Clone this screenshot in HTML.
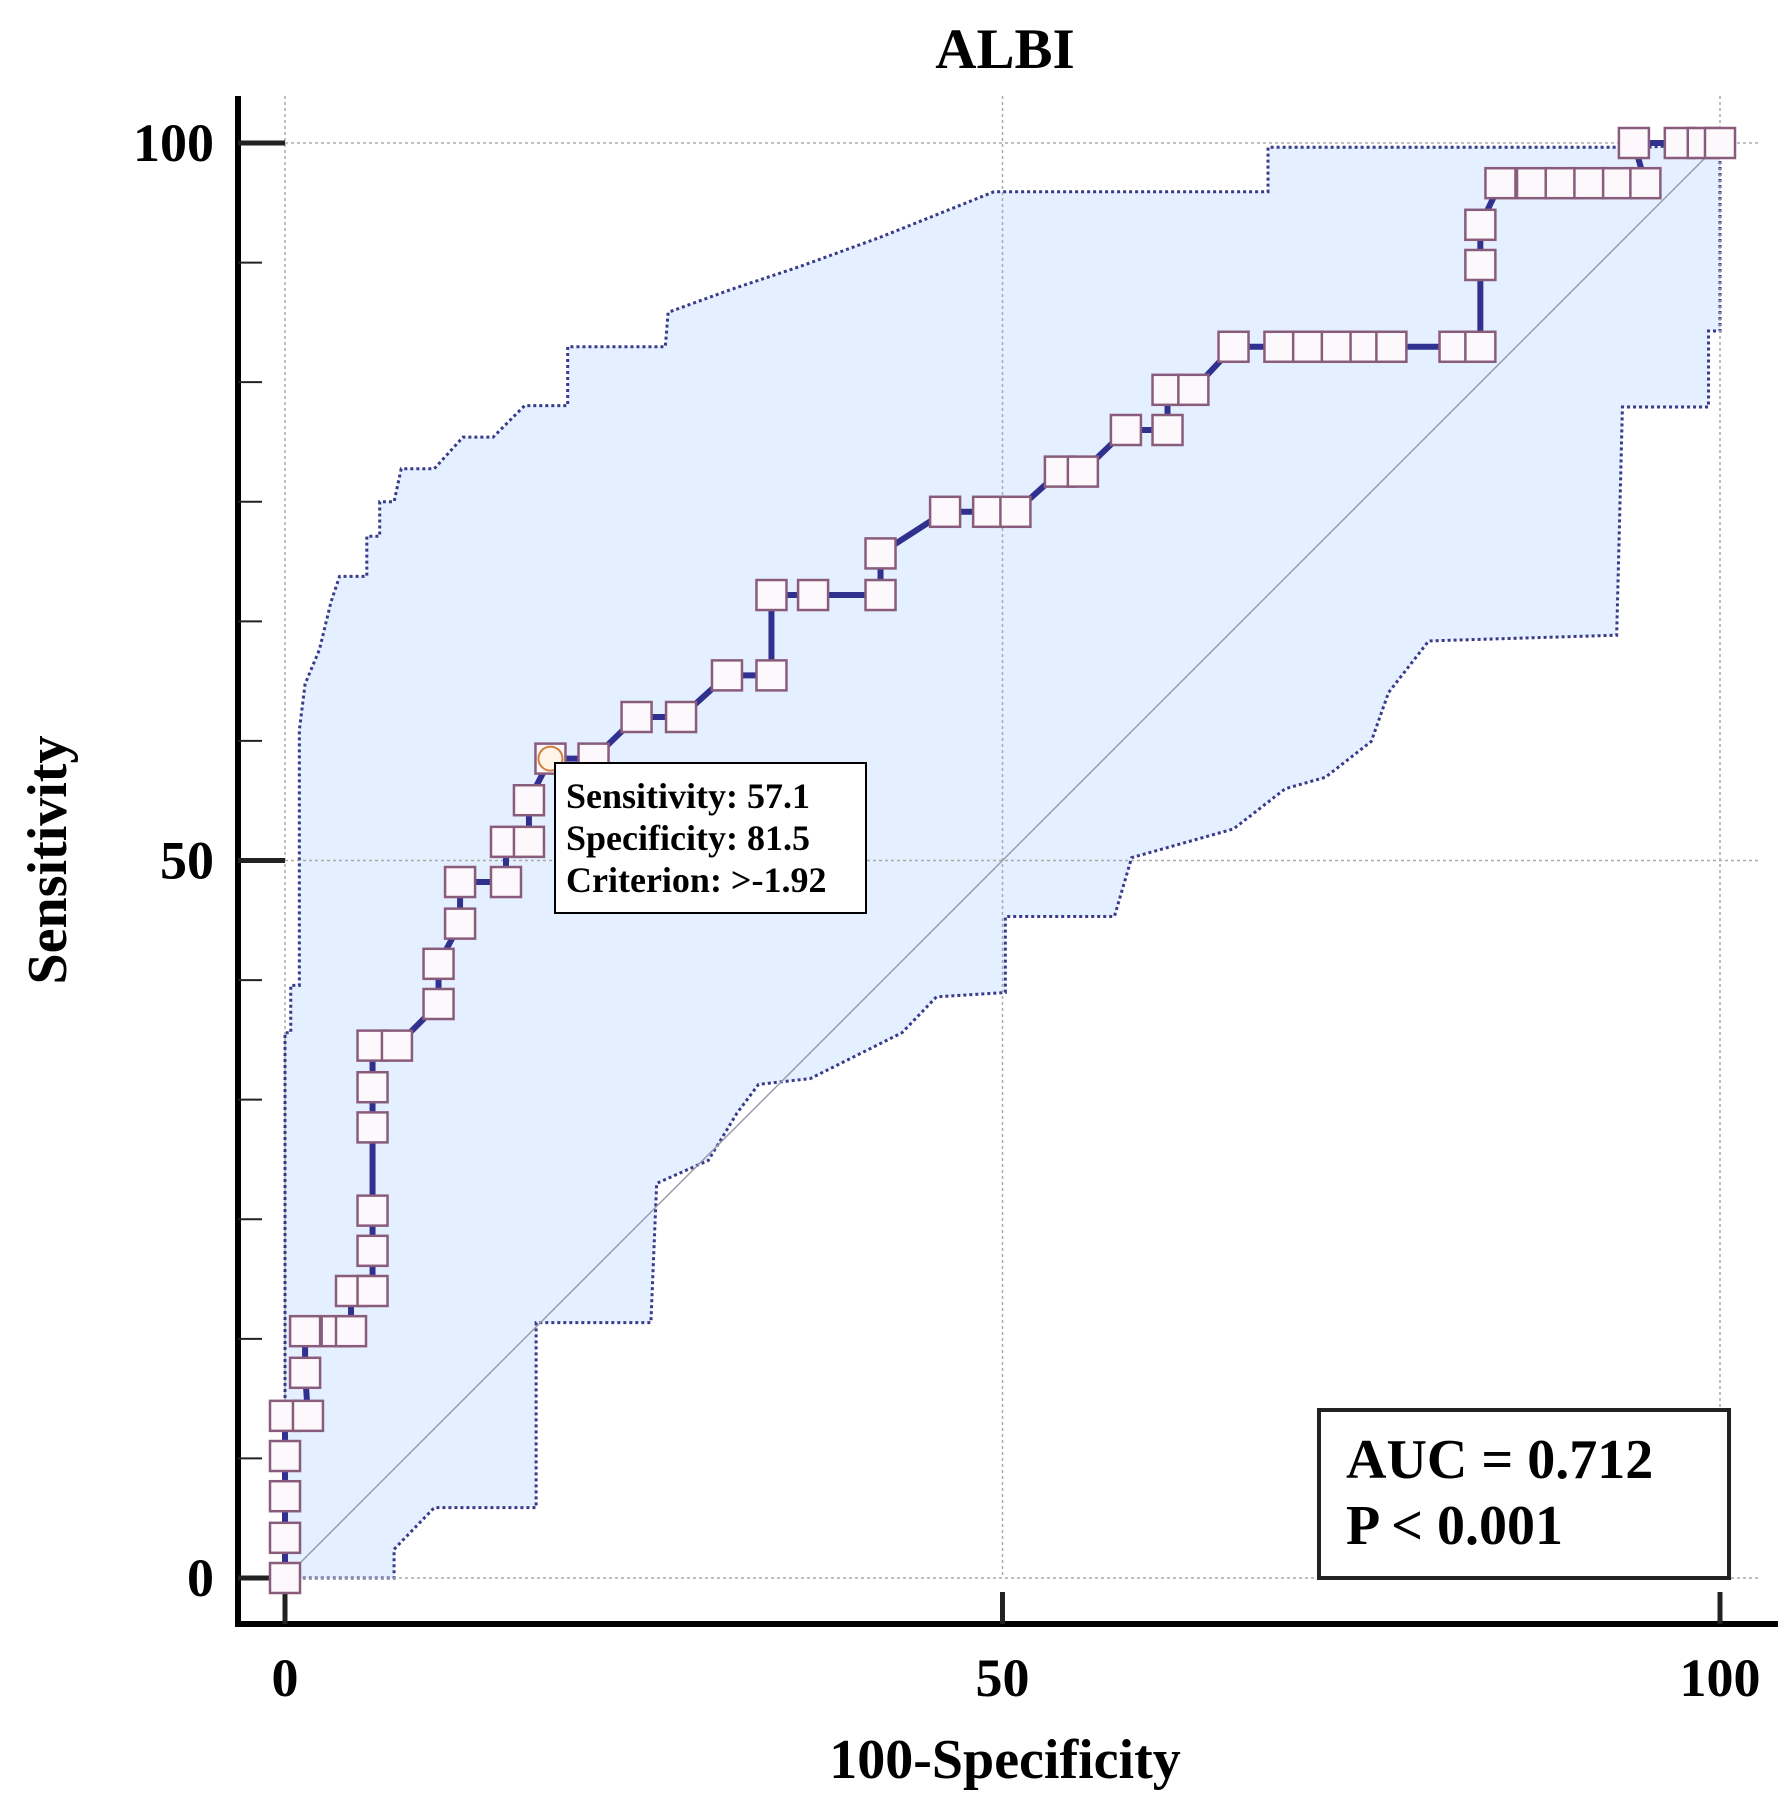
<!DOCTYPE html>
<html><head><meta charset="utf-8"><style>
html,body{margin:0;padding:0;background:#fff;}
svg{display:block;font-family:"Liberation Serif",serif;}
</style></head><body>
<svg id="chart" width="1790" height="1819" viewBox="0 0 1790 1819">
<text x="1005" y="68" text-anchor="middle" font-size="57" font-weight="bold">ALBI</text>
<g id="plot"></g>
<text x="1005" y="1778" text-anchor="middle" font-size="56" font-weight="bold">100-Specificity</text>
<text transform="translate(66,860) rotate(-90)" text-anchor="middle" font-size="56" font-weight="bold">Sensitivity</text>
</svg>
<script>
const rocX=[0,0,0,0,0,1.6,1.4,1.4,3.6,4.6,4.6,6.1,6.1,6.1,6.1,6.1,6.1,7.8,10.7,10.7,12.2,12.2,15.4,15.4,17,17,18.5,21.5,24.5,27.6,30.8,33.9,33.9,36.8,41.5,41.5,46,49,50.9,54,55.6,58.6,61.5,61.5,63.3,66.1,69.3,71.3,73.3,75.3,77.1,81.5,83.3,83.3,83.3,84.7,86.9,88.9,90.9,92.9,94.8,94,97.2,98.8,100];
const rocY=[0,2.8,5.7,8.5,11.3,11.3,14.3,17.2,17.2,17.2,20,20,22.8,25.6,31.4,34.2,37.1,37.1,40,42.8,45.6,48.5,48.5,51.3,51.3,54.2,57.1,57.1,60,60,62.9,62.9,68.5,68.5,68.5,71.4,74.3,74.3,74.3,77.1,77.1,80,80,82.8,82.8,85.8,85.8,85.8,85.8,85.8,85.8,85.8,85.8,91.5,94.3,97.2,97.2,97.2,97.2,97.2,97.2,100,100,100,100];
const upperX=[0,0,0.4,0.4,1,1,1.4,2.4,3.2,3.8,5.7,5.7,6.6,6.6,7.6,8.1,10.4,12.4,14.5,16.7,19.7,19.7,26.5,26.7,31.1,35.9,41.4,45.4,49.4,68.5,68.5,94.8,100];
const upperY=[0,38,38,41.3,41.3,59.1,62.3,64.7,68,69.8,69.8,72.6,72.6,75,75,77.3,77.3,79.5,79.5,81.7,81.7,85.8,85.8,88.2,89.8,91.4,93.4,95,96.6,96.6,99.7,99.7,100];
const lowerX=[100,100,99.2,99.2,93.2,92.8,79.7,76.9,75.7,72.5,69.7,66.1,59,57.8,50.2,50.2,45.4,43,36.6,33,31.5,29.5,25.9,25.5,17.5,17.5,10.4,7.6,7.6,0];
const lowerY=[100,86.9,86.9,81.6,81.6,65.7,65.3,61.7,58.3,55.8,55,52.2,50.2,46.1,46.1,40.8,40.5,38,34.8,34.4,32.4,29.1,27.5,17.8,17.8,4.9,4.9,2,0,0];
const tickVals=[0,50,100];
const tickLabels=["0","50","100"];
const highlight={sens:57.1,fpr:18.5};

const X0=285,X1=1720,Y0=1578,Y1=143;
const sx=v=>X0+(X1-X0)*v/100, sy=v=>Y0-(Y0-Y1)*v/100;
const NS="http://www.w3.org/2000/svg";
const g=document.getElementById('plot');
function mk(t,a){const e=document.createElementNS(NS,t);for(const k in a)e.setAttribute(k,a[k]);g.appendChild(e);return e;}

let pts=upperX.map((x,i)=>sx(x)+','+sy(upperY[i])).concat(lowerX.map((x,i)=>sx(x)+','+sy(lowerY[i])));
let band=mk('polygon',{points:pts.join(' '),fill:'#e4efff',stroke:'none'});


let ub=mk('polyline',{points:upperX.map((x,i)=>sx(x)+','+sy(upperY[i])).join(' '),fill:'none',stroke:'#3a3a8a','stroke-width':3,'stroke-dasharray':'3 3'});


let lb=mk('polyline',{points:lowerX.map((x,i)=>sx(x)+','+sy(lowerY[i])).join(' '),fill:'none',stroke:'#3a3a8a','stroke-width':3,'stroke-dasharray':'3 3'});



tickVals.forEach((v,i)=>{
 let a=mk('line',{x1:sx(v),x2:sx(v),y1:96,y2:Y0,stroke:'#aaa','stroke-width':1.5,'stroke-dasharray':'3 3'});
 
 
 let b=mk('line',{x1:X0,x2:1760,y1:sy(v),y2:sy(v),stroke:'#aaa','stroke-width':1.5,'stroke-dasharray':'3 3'});
 
 
});
let d=mk('line',{x1:sx(0),y1:sy(0),x2:sx(100),y2:sy(100),stroke:'#9a9aaa','stroke-width':1.5});



let ya=mk('line',{x1:238,x2:238,y1:96,y2:1627,stroke:'#000','stroke-width':6});


let xa=mk('line',{x1:235,x2:1778,y1:1624,y2:1624,stroke:'#000','stroke-width':6});


for(let k=0;k<=12;k++){
 const v=k*100/12, major=k%6===0;
 let t=mk('line',{x1:238,x2:major?X0:262,y1:sy(v),y2:sy(v),stroke:'#222','stroke-width':major?5:2});
 
 
}
tickVals.forEach((v,i)=>{
 let t=mk('line',{x1:sx(v),x2:sx(v),y1:1624,y2:1592,stroke:'#222','stroke-width':5});
 
 
 let yl=mk('text',{x:214,y:sy(v)+18,'text-anchor':'end','font-size':54,'font-weight':'bold'});
 yl.textContent=tickLabels[i];
 
 
 let xl=mk('text',{x:sx(v),y:1696,'text-anchor':'middle','font-size':54,'font-weight':'bold'});
 xl.textContent=tickLabels[i];
 
 
});

let rl=mk('polyline',{points:rocX.map((x,i)=>sx(x)+','+sy(rocY[i])).join(' '),fill:'none',stroke:'#30308f','stroke-width':6});


rocX.forEach((x,i)=>{
 const hi=(x===highlight.fpr&&rocY[i]===highlight.sens);
 let r=mk('rect',{x:sx(x)-15,y:sy(rocY[i])-15,width:30,height:30,fill:'#fdf8fc',stroke:'#8a5c7c','stroke-width':2.5});
 
 
 if(hi){let c=mk('circle',{cx:sx(x),cy:sy(rocY[i]),r:12,fill:'#fff4e8',stroke:'#d08040','stroke-width':2});
  
  }
});

let cb=mk('rect',{x:555,y:763,width:311,height:150,fill:'#fff',stroke:'#000','stroke-width':2});


["Sensitivity: 57.1","Specificity: 81.5","Criterion: >-1.92"].forEach((s,i)=>{
 let t=mk('text',{x:566,y:808+i*42,'font-size':36,'font-weight':'bold'});
 t.textContent=s;
 
 
});
let ab=mk('rect',{x:1319,y:1410,width:410,height:168,fill:'#fff',stroke:'#222','stroke-width':4});


["AUC = 0.712","P < 0.001"].forEach((s,i)=>{
 let t=mk('text',{x:1346,y:1478+i*66,'font-size':56,'font-weight':'bold'});
 t.textContent=s;
 
 
});
</script>
</body></html>
